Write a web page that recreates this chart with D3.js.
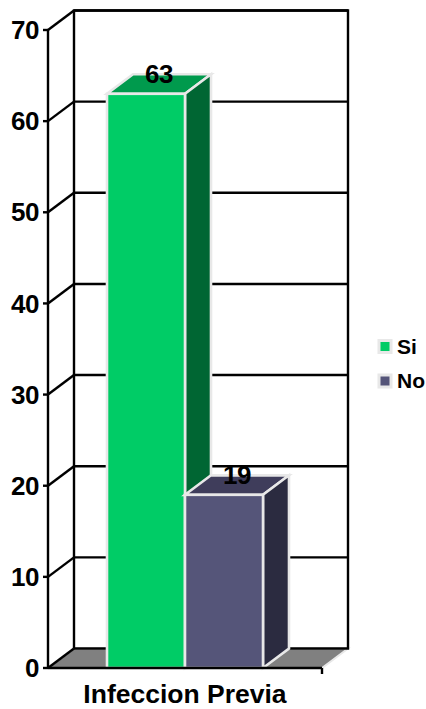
<!DOCTYPE html>
<html><head><meta charset="utf-8">
<script src="https://cdn.jsdelivr.net/npm/d3@7"></script>
<style>html,body{margin:0;padding:0;background:#fff}svg{display:block}text{font-family:"Liberation Sans",Arial,sans-serif;font-weight:bold;fill:#000}</style>
</head><body><svg id="c" width="426" height="709"></svg>
<script>
const categories = ["Si", "No"];
const values = [63, 19];
const frontColors = ["#00CC66", "#555579"];
const topColors = ["#009A4D", "#3F3D5B"];
const sideColors = ["#006633", "#2B2B40"];
const yTicks = [0, 10, 20, 30, 40, 50, 60, 70];
const axisLabel = "Infeccion Previa";

const svg = d3.select("#c");
const y = d3.scaleLinear().domain([0, 70]).range([668, 30]);
const x = d3.scaleBand().domain(categories).range([107, 263]).padding(0);
const dx = 26, dy = -19.5;
const left = 48, right = 322;
const pts = p => p.map(a => a.join(",")).join(" ");

// floor
svg.append("polygon").attr("points", pts([[left, y(0)], [left + dx, y(0) + dy], [right + dx, y(0) + dy], [right, y(0)]]))
  .attr("fill", "#808080").attr("stroke", "#e8e8e8").attr("stroke-width", 2);

// back wall gridlines
svg.append("g").selectAll("line").data(yTicks.filter(d => d > 0)).join("line")
  .attr("x1", left + dx).attr("x2", right + dx)
  .attr("y1", d => y(d) + dy).attr("y2", d => y(d) + dy)
  .attr("stroke", "#000").attr("stroke-width", 2.4);
// side wall slants
svg.append("g").selectAll("line").data(yTicks).join("line")
  .attr("x1", left).attr("x2", left + dx)
  .attr("y1", d => y(d)).attr("y2", d => y(d) + dy)
  .attr("stroke", "#000").attr("stroke-width", 2.4);
// wall verticals
const frame = svg.append("g").attr("stroke", "#000").attr("stroke-width", 2.4).attr("fill", "none");
frame.append("path").attr("d", `M${left + dx},${y(0) + dy}V${y(70) + dy}H${right + dx}V${y(0) + dy}H${left + dx}`);

// bars
const bars = svg.append("g").selectAll("g").data(categories).join("g");
const edge = { stroke: "#e8e8e8", w: 2.6 };
bars.append("polygon").attr("points", (d, i) => { const a = x(d), b = a + x.bandwidth(), t = y(values[i]);
  return pts([[a, t], [a + dx, t + dy], [b + dx, t + dy], [b, t]]); })
  .attr("fill", (d, i) => topColors[i]).attr("stroke", edge.stroke).attr("stroke-width", edge.w);
bars.append("polygon").attr("points", (d, i) => { const b = x(d) + x.bandwidth(), t = y(values[i]);
  return pts([[b, t], [b + dx, t + dy], [b + dx, y(0) + dy], [b, y(0)]]); })
  .attr("fill", (d, i) => sideColors[i]).attr("stroke", edge.stroke).attr("stroke-width", edge.w);
bars.append("rect").attr("x", d => x(d)).attr("y", (d, i) => y(values[i]))
  .attr("width", x.bandwidth()).attr("height", (d, i) => y(0) - y(values[i]))
  .attr("fill", (d, i) => frontColors[i]).attr("stroke", edge.stroke).attr("stroke-width", edge.w);

// front axes
const ax = svg.append("g").attr("stroke", "#000").attr("stroke-width", 2.4).attr("fill", "none");
ax.append("line").attr("x1", left).attr("x2", left).attr("y1", y(70)).attr("y2", y(0));
ax.append("line").attr("x1", left).attr("x2", right).attr("y1", y(0)).attr("y2", y(0));
ax.append("line").attr("x1", right).attr("x2", right).attr("y1", y(0)).attr("y2", y(0) + 6);
ax.selectAll(".t").data(yTicks).join("line").attr("class", "t")
  .attr("x1", left - 5).attr("x2", left).attr("y1", d => y(d)).attr("y2", d => y(d));

// tick labels
svg.append("g").selectAll("text").data(yTicks).join("text")
  .attr("x", 39).attr("y", d => y(d)).attr("dy", "0.35em").attr("text-anchor", "end")
  .attr("font-size", 26).style("letter-spacing", "-0.5px").text(d => d);

// value labels
svg.append("g").selectAll("text").data(categories).join("text")
  .attr("x", d => x(d) + x.bandwidth() / 2 + 13).attr("y", (d, i) => y(values[i]) + dy + 8.5)
  .attr("text-anchor", "middle").attr("font-size", 26).style("letter-spacing", "-0.5px").text((d, i) => values[i]);

// category label
svg.append("text").attr("x", 185).attr("y", 703.4).attr("text-anchor", "middle").attr("font-size", 26.5).text(axisLabel);

// legend
const lg = svg.append("g").selectAll("g").data(categories).join("g")
  .attr("transform", (d, i) => `translate(379,${346.5 + i * 34.5})`);
lg.append("rect").attr("x", 0).attr("y", -6).attr("width", 12).attr("height", 12)
  .attr("fill", (d, i) => frontColors[i]).attr("stroke", "#e8e8e8").attr("stroke-width", 3);
lg.append("text").attr("x", 18).attr("y", 0).attr("dy", "0.35em").attr("font-size", 21).text(d => d);
</script></body></html>
